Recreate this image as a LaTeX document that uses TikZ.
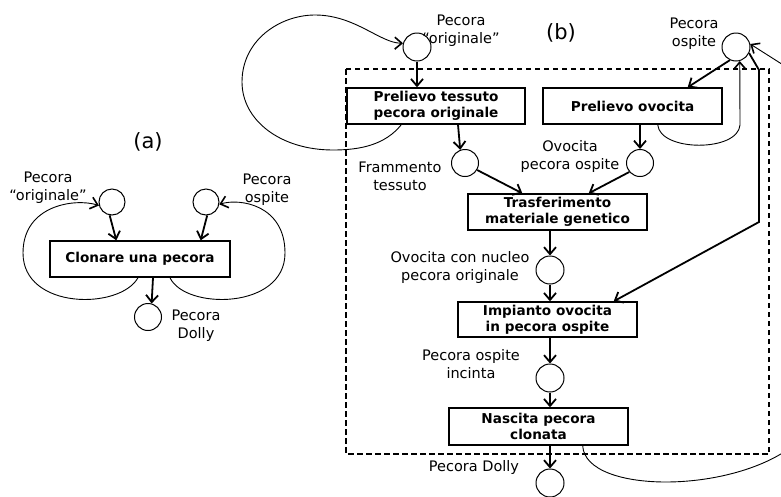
\documentclass[tikz,border=0pt]{standalone}
\usepackage{fontspec}
\setmainfont{DejaVu Sans}
\usetikzlibrary{arrows.meta,calc}
\begin{document}
\begin{tikzpicture}[x=1pt,y=-1pt,
  proc/.style={draw,line width=1.4pt,rectangle,inner sep=0pt,align=center,
    font=\fontsize{13.6}{16}\selectfont\bfseries},
  place/.style={draw,circle,line width=1pt,inner sep=0pt,minimum size=#1},
  place/.default=28pt,
  lab/.style={align=center,inner sep=0pt,font=\fontsize{14.5}{18}\selectfont},
  tag/.style={inner sep=0pt,font=\fontsize{21}{24}\selectfont},
  arr/.style={line width=1.8pt,-{Straight Barb[length=7pt,width=12pt]}},
  loopline/.style={line width=0.9pt,-{Straight Barb[length=7pt,width=12pt,line width=1.6pt]}},
  frame/.style={line width=1.5pt,dash pattern=on 5.5pt off 3.5pt},
]
\useasboundingbox (0,0) rectangle (781,496);
\clip (0,0) rectangle (781,496);

% ---------------- (a) ----------------
\node[tag] (ta) at (148,142) {(a)};
\node[proc,minimum width=180pt,minimum height=36pt] (A) at (140,259) {Clonare una pecora};
\node[place=26pt] (ca1) at (112,202) {};
\node[place=26pt] (ca2) at (206,202) {};
\node[place=27pt] (ca3) at (148,317) {};
\node[lab] (la1) at (48,188) {Pecora\\“originale”};
\node[lab] (la2) at (267,190) {Pecora\\ospite};
\node[lab] (la3) at (196,326) {Pecora\\Dolly};

\draw[arr] (ca1.-100) -- ($(A.north west)+(67,0)$);
\draw[arr] (ca2.-85) -- ($(A.north east)+(-30,0)$);
\draw[arr] ($(A.south)+(13,0)$) -- (ca3.75);
\draw[loopline] ($(A.south)+(-2,0)$) .. controls (120,310) and (23,310) .. (23,253)
   .. controls (23,205) and (75,198) .. (ca1.195);
\draw[loopline] ($(A.south)+(30,0)$) .. controls (185,310) and (285,310) .. (285,253)
   .. controls (285,205) and (240,198) .. (ca2.-10);

% ---------------- (b) ----------------
\node[tag] (tb) at (561,33) {(b)};
\draw[frame] (346,69) rectangle (769,454);

\node[proc,minimum width=178pt,minimum height=36pt] (P1) at (436,106) {Prelievo tessuto\\pecora originale};
\node[proc,minimum width=179pt,minimum height=36pt] (P2) at (632.5,106) {Prelievo ovocita};
\node[proc,minimum width=179pt,minimum height=36pt] (T) at (557.5,212) {Trasferimento\\materiale genetico};
\node[proc,minimum width=179pt,minimum height=35pt] (I) at (547.5,319.5) {Impianto ovocita\\in pecora ospite};
\node[proc,minimum width=179pt,minimum height=37pt] (N) at (538.5,426.5) {Nascita pecora\\clonata};

\node[place] (cb1) at (417,47) {};
\node[place] (cb2) at (736,47) {};
\node[place=27pt] (cF) at (465,163) {};
\node[place=27pt] (cO) at (640,163) {};
\node[place] (cN) at (550,270) {};
\node[place] (cI) at (550,378) {};
\node[place] (cD) at (550,483) {};

\node[lab] (lb1) at (461,31) {Pecora\\“originale”};
\node[lab] (lb2) at (694,34) {Pecora\\ospite};
\node[lab] (lF) at (400,176) {Frammento\\tessuto};
\node[lab] (lO) at (570,156) {Ovocita\\pecora ospite};
\node[lab] (lN) at (460,267) {Ovocita con nucleo\\pecora originale};
\node[lab] (lI) at (471,364) {Pecora ospite\\incinta};
\node[lab] (lD) at (474,467) {Pecora Dolly};

\coordinate (k1) at (740,125);
\coordinate (b1) at (759,70);
\coordinate (b2) at (759,222);
\coordinate (r1) at (800,440);
\coordinate (r2) at (810,82);

% straight arrows
\draw[arr] (cb1.south) -- (cb1.south |- P1.north);
\draw[arr] ($(P1.south)+(22,0)$) -- (cF.110);
\draw[arr] (cO.north |- P2.south) -- (cO.north);
\draw[arr] (cF.-30) -- ($(T.north west)+(55,0)$);
\draw[arr] (cO.-140) -- ($(T.north east)+(-59,0)$);
\draw[arr] (cN.north |- T.south) -- (cN.north);
\draw[arr] (cN.south) -- (cN.south |- I.north);
\draw[arr] (cI.north |- I.south) -- (cI.north);
\draw[arr] (cI.south) -- (cI.south |- N.north);
\draw[arr] (cD.north |- N.south) -- (cD.north);
\draw[arr] (cb2.-115) -- ($(P2.north east)+(-35,0)$);
\draw[arr] (cb2.-25) -- (b1) -- (b2) -- ($(I.north east)+(-24,0)$);

% loops
\draw[loopline] ($(P1.south west)+(55,0)$) .. controls (385,145) and (360,150) .. (333,150)
   .. controls (280,150) and (242,120) .. (242,82)
   .. controls (242,40) and (280,15) .. (315,15)
   .. controls (355,15) and (380,43) .. (cb1.165);
\draw[loopline] ($(P2.south east)+(-65,0)$) .. controls (660,152) and (738,152) .. (k1) -- (cb2.-75);
\draw[loopline] ($(N.south east)+(-46,0)$) .. controls (585,495) and (740,495) .. (r1)
   .. controls (830,380) and (830,120) .. (r2) -- (cb2.12);
\end{tikzpicture}
\end{document}
